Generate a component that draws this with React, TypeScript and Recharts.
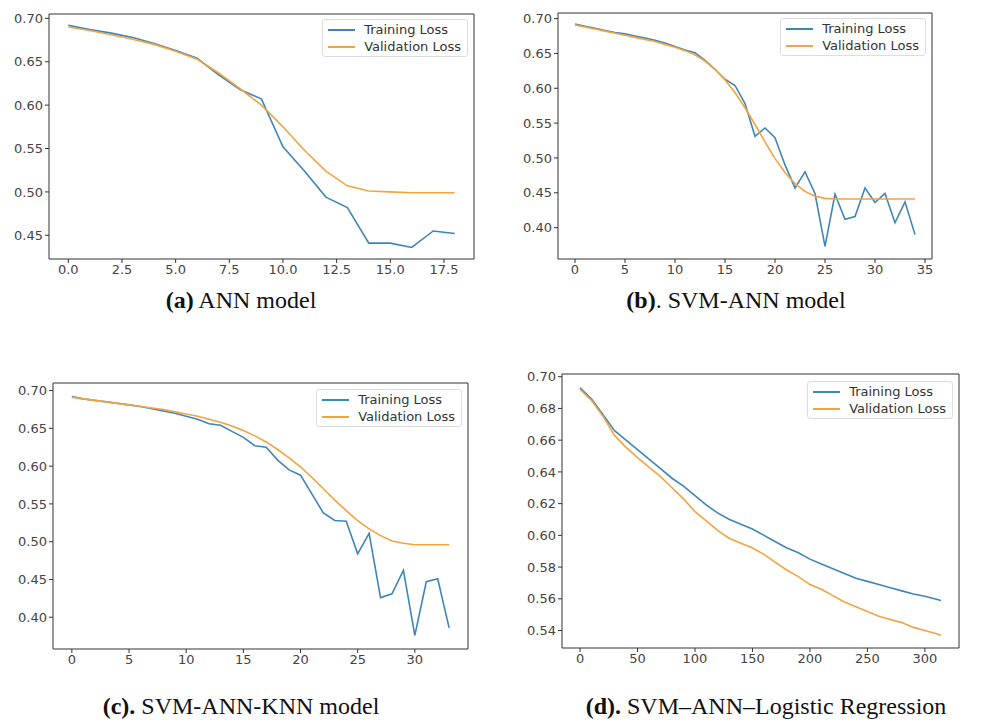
import React from 'react';
import { LineChart, Line, XAxis, YAxis, Legend } from 'recharts';

// (a) ANN model, epochs 0..18
const annTrain = [0.692, 0.687, 0.683, 0.678, 0.671, 0.663, 0.654, 0.635, 0.618, 0.607, 0.552, 0.524, 0.494, 0.482, 0.441, 0.441, 0.436, 0.455, 0.452];
const annVal = [0.690, 0.686, 0.681, 0.676, 0.670, 0.662, 0.653, 0.637, 0.619, 0.600, 0.575, 0.548, 0.524, 0.507, 0.501, 0.500, 0.499, 0.499, 0.499];

// (b) SVM-ANN model, epochs 0..34
const svmAnnTrain = [0.692, 0.689, 0.686, 0.683, 0.680, 0.678, 0.675, 0.672, 0.669, 0.665, 0.660, 0.655, 0.651, 0.640, 0.627, 0.613, 0.604, 0.578, 0.531, 0.543, 0.529, 0.490, 0.457, 0.480, 0.449, 0.373, 0.448, 0.412, 0.416, 0.457, 0.436, 0.449, 0.407, 0.437, 0.390];
const svmAnnVal = [0.691, 0.688, 0.685, 0.682, 0.679, 0.676, 0.673, 0.670, 0.667, 0.663, 0.659, 0.654, 0.648, 0.639, 0.627, 0.612, 0.594, 0.572, 0.548, 0.523, 0.499, 0.479, 0.463, 0.452, 0.445, 0.442, 0.441, 0.441, 0.441, 0.441, 0.441, 0.441, 0.441, 0.441, 0.441];

// (c) SVM-ANN-KNN model, epochs 0..33
const knnTrain = [0.692, 0.689, 0.687, 0.685, 0.683, 0.681, 0.679, 0.676, 0.673, 0.670, 0.666, 0.662, 0.656, 0.654, 0.646, 0.638, 0.627, 0.625, 0.608, 0.595, 0.588, 0.563, 0.538, 0.528, 0.527, 0.484, 0.511, 0.426, 0.431, 0.462, 0.376, 0.447, 0.451, 0.386];
const knnVal = [0.691, 0.689, 0.687, 0.685, 0.683, 0.681, 0.679, 0.677, 0.675, 0.672, 0.669, 0.666, 0.662, 0.658, 0.653, 0.647, 0.640, 0.632, 0.622, 0.611, 0.599, 0.585, 0.570, 0.555, 0.541, 0.528, 0.517, 0.508, 0.501, 0.498, 0.496, 0.496, 0.496, 0.496];

// (d) SVM-ANN-Logistic Regression, read every 10 epochs
const lrEpochs = [0, 10, 20, 30, 40, 50, 60, 70, 80, 90, 100, 110, 120, 130, 140, 150, 160, 170, 180, 190, 200, 210, 220, 230, 240, 250, 260, 270, 280, 290, 300, 310, 314];
const lrTrain = [0.693, 0.686, 0.676, 0.666, 0.660, 0.654, 0.648, 0.642, 0.636, 0.631, 0.625, 0.619, 0.614, 0.610, 0.607, 0.604, 0.600, 0.596, 0.592, 0.589, 0.585, 0.582, 0.579, 0.576, 0.573, 0.571, 0.569, 0.567, 0.565, 0.563, 0.5616, 0.5597, 0.559];
const lrVal = [0.692, 0.685, 0.675, 0.663, 0.6555, 0.649, 0.643, 0.637, 0.630, 0.623, 0.615, 0.609, 0.603, 0.598, 0.595, 0.592, 0.588, 0.583, 0.578, 0.574, 0.569, 0.566, 0.562, 0.558, 0.555, 0.552, 0.549, 0.547, 0.545, 0.542, 0.540, 0.538, 0.537];

const TRAIN_COLOR = '#3f86b8';
const VAL_COLOR = '#f4a340';
const AXIS = '#333';
const TICK_FONT = { fill: '#444', fontSize: 13, fontFamily: 'DejaVu Sans' };

const ML = 60;
const MT = 10;
const MR = 12;
const XH = 30;

function LossLegend() {
  const row = (color: string, label: string) => (
    <div style={{ display: 'flex', alignItems: 'center', height: 17 }}>
      <div style={{ width: 27, height: 2, background: color, marginRight: 9 }} />
      <span>{label}</span>
    </div>
  );
  return (
    <div
      style={{
        border: '1px solid #ddd',
        borderRadius: 3,
        background: '#fff',
        padding: '1px 6px 1px 5px',
        fontFamily: 'DejaVu Sans',
        fontSize: 13,
        color: '#333',
        whiteSpace: 'nowrap',
      }}
    >
      {row(TRAIN_COLOR, 'Training Loss')}
      {row(VAL_COLOR, 'Validation Loss')}
    </div>
  );
}

interface PanelProps {
  box: { left: number; top: number; w: number; h: number };
  data: { x: number; train: number; val: number }[];
  xDomain: [number, number];
  xTicks: number[];
  xFmt: (v: number) => string;
  yDomain: [number, number];
  yTicks: number[];
  legend: { top: number; right: number };
}

function Panel({ box, data, xDomain, xTicks, xFmt, yDomain, yTicks, legend }: PanelProps) {
  const chartLeft = box.left - ML;
  const chartTop = box.top - MT;
  const width = box.w + ML + MR;
  const height = box.h + MT + XH;
  return (
    <div style={{ position: 'absolute', left: chartLeft, top: chartTop }}>
      <LineChart width={width} height={height} data={data} margin={{ top: MT - 1, right: MR - 1, bottom: 0, left: 0 }}>
        <XAxis
          dataKey="x"
          type="number"
          domain={xDomain}
          ticks={xTicks}
          tickFormatter={xFmt}
          interval={0}
          height={XH}
          stroke={AXIS}
          tick={TICK_FONT}
          tickSize={4}
          allowDataOverflow
        />
        <XAxis xAxisId="top" dataKey="x" type="number" orientation="top" domain={xDomain} height={1} tick={false} tickLine={false} stroke={AXIS} allowDataOverflow />
        <YAxis
          type="number"
          domain={yDomain}
          ticks={yTicks}
          tickFormatter={(v: number) => v.toFixed(2)}
          interval={0}
          width={ML}
          stroke={AXIS}
          tick={TICK_FONT}
          tickSize={4}
          allowDataOverflow
        />
        <YAxis yAxisId="right" orientation="right" type="number" domain={yDomain} width={1} tick={false} tickLine={false} stroke={AXIS} allowDataOverflow />
        <Legend
          layout="vertical"
          align="center"
          verticalAlign="middle"
          content={() => <LossLegend />}
          wrapperStyle={{ top: legend.top - chartTop, left: 'auto', right: chartLeft + width - legend.right, width: 'auto', bottom: 'auto' }}
        />
        <Line type="linear" dataKey="train" name="Training Loss" stroke={TRAIN_COLOR} strokeWidth={1.6} dot={false} isAnimationActive={false} />
        <Line type="linear" dataKey="val" name="Validation Loss" stroke={VAL_COLOR} strokeWidth={1.6} dot={false} isAnimationActive={false} />
      </LineChart>
    </div>
  );
}

const byIndex = (train: number[], val: number[]) => train.map((t, i) => ({ x: i, train: t, val: val[i] }));

const captionStyle: React.CSSProperties = {
  position: 'absolute',
  fontFamily: 'Liberation Serif',
  fontSize: 24,
  lineHeight: '28px',
  color: '#111',
  whiteSpace: 'nowrap',
  transform: 'translateX(-50%)',
};

export default function App() {
  const lrData = lrEpochs.map((e, i) => ({ x: e, train: lrTrain[i], val: lrVal[i] }));
  return (
    <div style={{ position: 'absolute', left: 0, top: 0, width: 986, height: 720, background: '#fff', overflow: 'hidden' }}>
      <Panel
        box={{ left: 49, top: 14, w: 425, h: 245 }}
        data={byIndex(annTrain, annVal)}
        xDomain={[-0.9, 18.9]}
        xTicks={[0, 2.5, 5, 7.5, 10, 12.5, 15, 17.5]}
        xFmt={(v) => v.toFixed(1)}
        yDomain={[0.4227, 0.705]}
        yTicks={[0.45, 0.5, 0.55, 0.6, 0.65, 0.7]}
        legend={{ top: 19, right: 468 }}
      />
      <Panel
        box={{ left: 558, top: 13, w: 374, h: 246 }}
        data={byIndex(svmAnnTrain, svmAnnVal)}
        xDomain={[-1.7, 35.7]}
        xTicks={[0, 5, 10, 15, 20, 25, 30, 35]}
        xFmt={(v) => String(v)}
        yDomain={[0.355, 0.708]}
        yTicks={[0.4, 0.45, 0.5, 0.55, 0.6, 0.65, 0.7]}
        legend={{ top: 18, right: 926 }}
      />
      <Panel
        box={{ left: 53, top: 383, w: 415, h: 266 }}
        data={byIndex(knnTrain, knnVal)}
        xDomain={[-1.65, 34.65]}
        xTicks={[0, 5, 10, 15, 20, 25, 30]}
        xFmt={(v) => String(v)}
        yDomain={[0.358, 0.71]}
        yTicks={[0.4, 0.45, 0.5, 0.55, 0.6, 0.65, 0.7]}
        legend={{ top: 389, right: 462 }}
      />
      <Panel
        box={{ left: 562, top: 374, w: 397, h: 274 }}
        data={lrData}
        xDomain={[-15.7, 329.7]}
        xTicks={[0, 50, 100, 150, 200, 250, 300]}
        xFmt={(v) => String(v)}
        yDomain={[0.529, 0.7017]}
        yTicks={[0.54, 0.56, 0.58, 0.6, 0.62, 0.64, 0.66, 0.68, 0.7]}
        legend={{ top: 381, right: 953 }}
      />
      <div style={{ ...captionStyle, left: 241, top: 286 }}>
        <b>(a)</b> ANN model
      </div>
      <div style={{ ...captionStyle, left: 736, top: 286 }}>
        <b>(b)</b>. SVM-ANN model
      </div>
      <div style={{ ...captionStyle, left: 241, top: 692 }}>
        <b>(c).</b> SVM-ANN-KNN model
      </div>
      <div style={{ ...captionStyle, left: 766, top: 692 }}>
        <b>(d).</b> SVM–ANN–Logistic Regression
      </div>
    </div>
  );
}
